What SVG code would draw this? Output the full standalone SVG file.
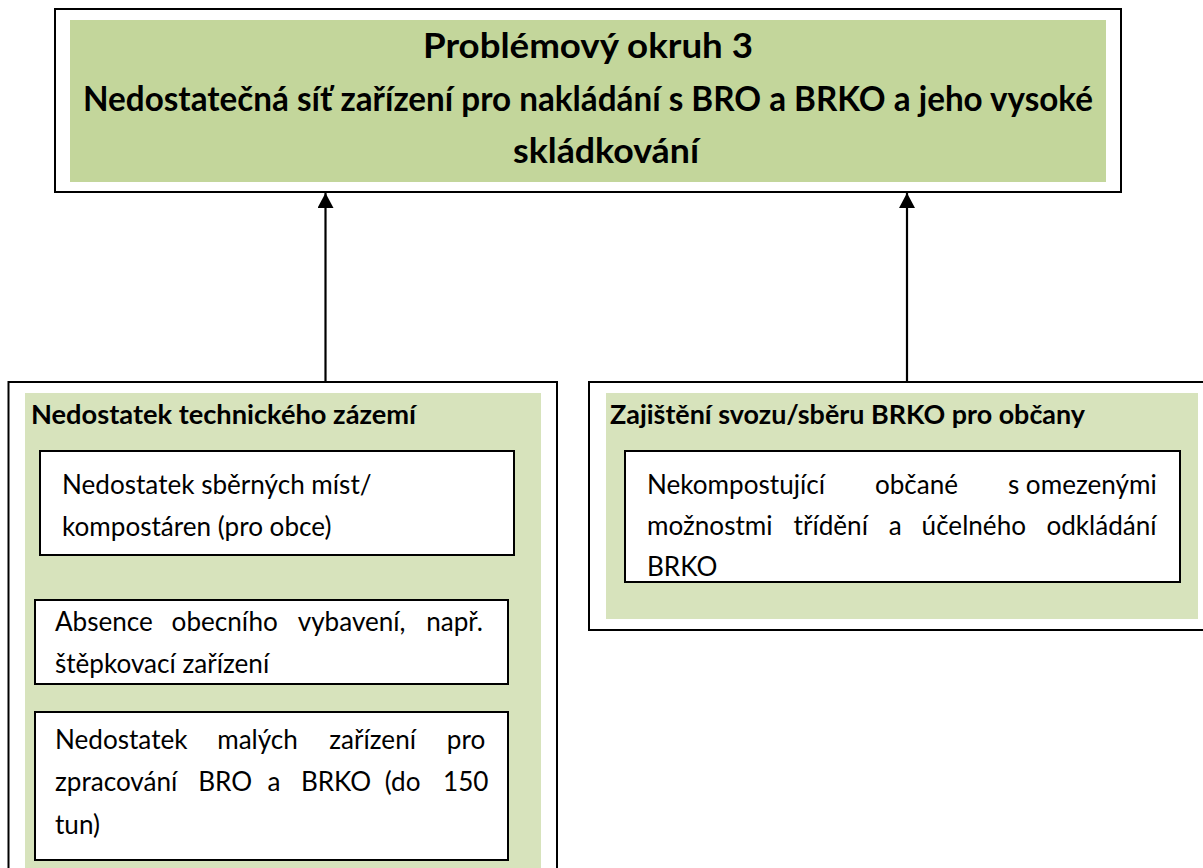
<svg xmlns="http://www.w3.org/2000/svg" width="1203" height="868" viewBox="0 0 1203 868">
<style>
.outer{fill:#ffffff;stroke:#000;stroke-width:2}
.gtop{fill:#c3d69b}
.glow{fill:#d7e3bc}
.inner{fill:#ffffff;stroke:#000;stroke-width:2}
.title{font-family:Lato,"Liberation Sans",sans-serif;font-weight:bold;font-size:34px;fill:#000}
.head{font-family:Lato,"Liberation Sans",sans-serif;font-weight:bold;font-size:27.2px;fill:#000}
.body{font-family:Lato,"Liberation Sans",sans-serif;font-size:26.1px;fill:#000}
.conn{stroke:#000;stroke-width:2.2;fill:none}
</style>
<defs>
<marker id="arr" markerWidth="16" markerHeight="17" refX="15" refY="8" orient="auto" markerUnits="userSpaceOnUse">
<path d="M0,0 L15,8 L0,16 Z" fill="#000"/>
</marker>
</defs>

<g id="problem">
<rect class="outer" x="55" y="9" width="1066" height="183"/>
<rect class="gtop" x="70" y="20" width="1036" height="162"/>
<text class="title" x="588" y="58" text-anchor="middle" textLength="330" lengthAdjust="spacingAndGlyphs">Problémový okruh 3</text>
<text class="title" x="588" y="111" text-anchor="middle" textLength="1010" lengthAdjust="spacingAndGlyphs">Nedostatečná síť zařízení pro nakládání s BRO a BRKO a jeho vysoké</text>
<text class="title" x="606" y="163" text-anchor="middle" textLength="186" lengthAdjust="spacingAndGlyphs">skládkování</text>
</g>

<g id="technicke">
<rect class="outer" x="8.5" y="382" width="548.5" height="500"/>
<rect class="glow" x="25" y="393" width="516" height="480"/>
<text class="head" x="31" y="424" textLength="385" lengthAdjust="spacingAndGlyphs">Nedostatek technického zázemí</text>
</g>

<g id="sberna-mista">
<rect class="inner" x="40" y="451" width="474" height="104"/>
<text class="body" x="62" y="494">Nedostatek sběrných míst/</text>
<text class="body" x="62" y="536">kompostáren (pro obce)</text>
</g>

<g id="vybaveni">
<rect class="inner" x="35" y="600" width="473" height="84"/>
<text class="body" y="631"><tspan x="55">Absence</tspan><tspan x="171.6">obecního</tspan><tspan x="297.7">vybavení,</tspan><tspan x="426.2">např.</tspan></text>
<text class="body" x="55" y="673">štěpkovací zařízení</text>
</g>

<g id="mala-zarizeni">
<rect class="inner" x="35" y="712" width="473" height="148"/>
<text class="body" y="749"><tspan x="55">Nedostatek</tspan><tspan x="217.2">malých</tspan><tspan x="329.3">zařízení</tspan><tspan x="446.8">pro</tspan></text>
<text class="body" y="791"><tspan x="55">zpracování</tspan><tspan x="198.2">BRO</tspan><tspan x="267.4">a</tspan><tspan x="300.9">BRKO</tspan><tspan x="384.8">(do</tspan><tspan x="443">150</tspan></text>
<text class="body" x="55" y="834">tun)</text>
</g>

<g id="svoz">
<rect class="outer" x="589" y="382" width="630" height="248"/>
<rect class="glow" x="606" y="393" width="592" height="226"/>
<text class="head" x="610" y="424" textLength="475" lengthAdjust="spacingAndGlyphs">Zajištění svozu/sběru BRKO pro občany</text>
</g>

<g id="nekompostujici">
<rect class="inner" x="625" y="451" width="555" height="131"/>
<text class="body" y="494"><tspan x="647">Nekompostující</tspan><tspan x="874.9">občané</tspan><tspan x="1007.9">s omezenými</tspan></text>
<text class="body" y="535"><tspan x="647">možnostmi</tspan><tspan x="793.6">třídění</tspan><tspan x="888.7">a</tspan><tspan x="921.6">účelného</tspan><tspan x="1046.4">odkládání</tspan></text>
<text class="body" x="647" y="576">BRKO</text>
</g>

<g id="connectors">
<line class="conn" x1="325.5" y1="382" x2="325.5" y2="193" marker-end="url(#arr)"/>
<line class="conn" x1="907" y1="382" x2="907" y2="193" marker-end="url(#arr)"/>
</g>
</svg>
